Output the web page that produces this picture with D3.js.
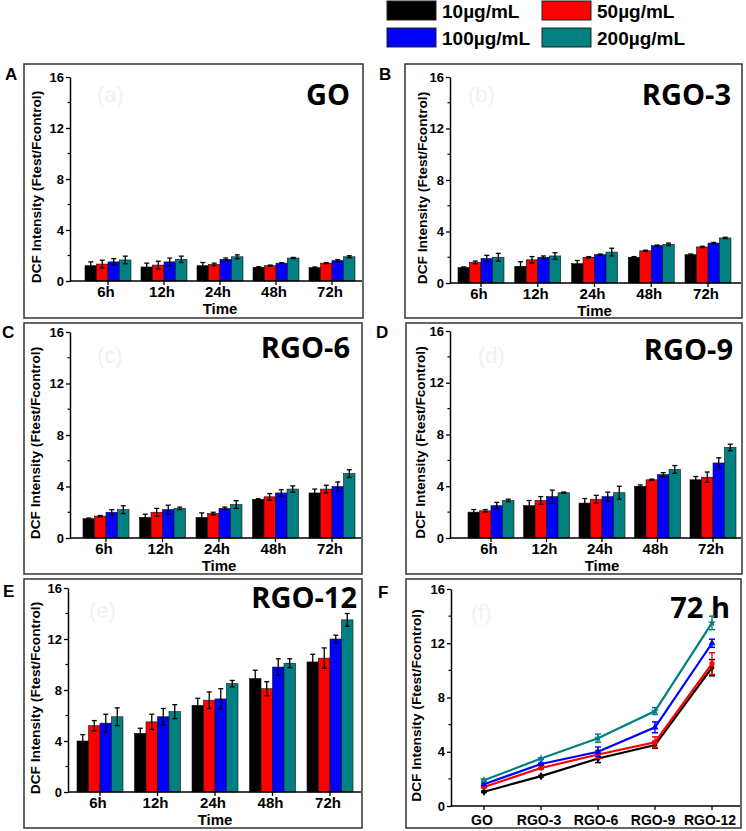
<!DOCTYPE html>
<html>
<head>
<meta charset="utf-8">
<script src="https://cdn.jsdelivr.net/npm/d3@7"></script>
<style>
  body { margin: 0; background: #fff; }
  text { font-family: "Liberation Sans", Arial, sans-serif; font-weight: bold; }
</style>
</head>
<body>
<div id="chart"></div>
<script>
// categories and series
var times = ["6h", "12h", "24h", "48h", "72h"];
var samples = ["GO", "RGO-3", "RGO-6", "RGO-9", "RGO-12"];
var concs = ["10\u00b5g/mL", "50\u00b5g/mL", "100\u00b5g/mL", "200\u00b5g/mL"];
var colors = ["#000000", "#ff0000", "#0000ff", "#008080"];
var yTicks = [0, 4, 8, 12, 16];
var yMinor = [2, 6, 10, 14];

// values per concentration (rows) and time (columns)
var goVals = [[1.2, 1.1, 1.2, 1.07, 1.05], [1.33, 1.25, 1.3, 1.2, 1.4], [1.5, 1.5, 1.7, 1.4, 1.6], [1.65, 1.7, 1.9, 1.8, 1.9]];
var goErr  = [[0.3, 0.3, 0.25, 0.05, 0.05], [0.3, 0.3, 0.1, 0.05, 0.05], [0.25, 0.3, 0.1, 0.03, 0.08], [0.3, 0.25, 0.15, 0.05, 0.08]];
var rgo3Vals = [[1.2, 1.3, 1.5, 2.0, 2.2], [1.6, 1.8, 2.0, 2.5, 2.8], [1.9, 2.0, 2.2, 2.9, 3.1], [2.0, 2.1, 2.4, 3.0, 3.5]];
var rgo3Err  = [[0.05, 0.35, 0.25, 0.05, 0.05], [0.1, 0.25, 0.05, 0.05, 0.05], [0.25, 0.1, 0.05, 0.05, 0.05], [0.3, 0.25, 0.3, 0.1, 0.05]];
var rgo6Vals = [[1.5, 1.6, 1.6, 3.0, 3.5], [1.7, 2.0, 1.9, 3.2, 3.8], [2.0, 2.2, 2.3, 3.5, 4.0], [2.2, 2.3, 2.6, 3.8, 5.0]];
var rgo6Err  = [[0.05, 0.25, 0.35, 0.05, 0.3], [0.05, 0.3, 0.1, 0.25, 0.3], [0.2, 0.35, 0.1, 0.25, 0.35], [0.3, 0.1, 0.3, 0.25, 0.3]];
var rgo9Vals = [[2.0, 2.5, 2.7, 4.0, 4.5], [2.1, 2.9, 3.0, 4.5, 4.7], [2.5, 3.2, 3.2, 4.9, 5.8], [2.9, 3.5, 3.5, 5.3, 7.0]];
var rgo9Err  = [[0.2, 0.4, 0.35, 0.1, 0.25], [0.1, 0.3, 0.3, 0.05, 0.4], [0.25, 0.5, 0.35, 0.15, 0.4], [0.1, 0.05, 0.5, 0.3, 0.25]];
var rgo12Vals = [[4.0, 4.6, 6.8, 8.9, 10.2], [5.2, 5.5, 7.2, 8.1, 10.5], [5.4, 5.9, 7.3, 9.8, 12.0], [5.9, 6.3, 8.5, 10.1, 13.5]];
var rgo12Err  = [[0.5, 0.4, 0.55, 0.65, 0.6], [0.4, 0.6, 0.65, 0.55, 0.8], [0.7, 0.65, 0.8, 0.65, 0.3], [0.7, 0.55, 0.25, 0.35, 0.5]];

var svg = d3.select("#chart").append("svg")
    .attr("width", 746)
    .attr("height", 831);

// legend
var legend = svg.append("g");
concs.forEach(function(c, i) {
    var lx = i % 2 === 0 ? 387 : 542;
    var ly = i < 2 ? 1 : 28;
    legend.append("rect")
        .attr("x", lx).attr("y", ly)
        .attr("width", 49).attr("height", 19)
        .attr("fill", colors[i])
        .attr("stroke", "#222").attr("stroke-width", 1);
    legend.append("text")
        .attr("x", lx + 55).attr("y", ly + 17)
        .style("font-size", "19px")
        .text(c);
});

// panel layout
var barPanels = [
    {key: "A", title: "GO", faint: "(a)", vals: goVals, errs: goErr,
     frame: [24, 64, 363, 318], plot: [70, 77, 362, 281], xr: [108, 332],
     keyPos: [5, 80], titlePos: [350, 105], faintPos: [97, 102], ylabX: 41},
    {key: "B", title: "RGO-3", faint: "(b)", vals: rgo3Vals, errs: rgo3Err,
     frame: [405, 64, 742, 318], plot: [450, 77, 741, 283], xr: [481, 708],
     keyPos: [379, 80], titlePos: [731, 105], faintPos: [468, 102], ylabX: 427},
    {key: "C", title: "RGO-6", faint: "(c)", vals: rgo6Vals, errs: rgo6Err,
     frame: [24, 323, 362, 574], plot: [70, 332, 361, 538], xr: [106, 332],
     keyPos: [2, 338], titlePos: [350, 358], faintPos: [97, 363], ylabX: 40},
    {key: "D", title: "RGO-9", faint: "(d)", vals: rgo9Vals, errs: rgo9Err,
     frame: [406, 323, 742, 574], plot: [450, 331, 741, 538], xr: [491, 713],
     keyPos: [376, 338], titlePos: [733, 360], faintPos: [478, 363], ylabX: 425},
    {key: "E", title: "RGO-12", faint: "(e)", vals: rgo12Vals, errs: rgo12Err,
     frame: [24, 579, 362, 828], plot: [68, 588, 361, 792], xr: [100, 330],
     keyPos: [3, 597], titlePos: [357, 608], faintPos: [89, 618], ylabX: 40}
];

function drawFrame(p) {
    svg.append("rect")
        .attr("x", p.frame[0]).attr("y", p.frame[1])
        .attr("width", p.frame[2] - p.frame[0])
        .attr("height", p.frame[3] - p.frame[1])
        .attr("fill", "none")
        .attr("stroke", "#333").attr("stroke-width", 1.5);

    svg.append("text")
        .attr("x", p.keyPos[0]).attr("y", p.keyPos[1])
        .style("font-size", "17px")
        .text(p.key);

    svg.append("text")
        .attr("x", p.faintPos[0]).attr("y", p.faintPos[1])
        .style("font-size", "22px").style("font-weight", "normal")
        .attr("fill", "#f1f1f1")
        .text(p.faint);

    svg.append("text")
        .attr("x", p.titlePos[0]).attr("y", p.titlePos[1])
        .attr("text-anchor", "end")
        .style("font-family", "'Open Sans', sans-serif")
        .style("font-size", "29px")
        .text(p.title);
}

function drawYAxis(p, y) {
    var g = svg.append("g").attr("transform", "translate(" + p.plot[0] + ",0)");
    g.call(d3.axisLeft(y).tickValues(yTicks).tickSize(4).tickSizeOuter(0));
    g.select(".domain").attr("stroke-width", 1.5);
    g.selectAll(".tick line").attr("stroke-width", 1.3);
    g.selectAll(".tick text")
        .attr("x", -6)
        .style("font-size", "13px")
        .style("font-family", "'Liberation Sans', Arial, sans-serif")
        .style("font-weight", "bold");
    g.selectAll(".minor").data(yMinor).enter().append("line")
        .attr("class", "minor")
        .attr("x1", -2.5).attr("x2", 0)
        .attr("y1", function(d) { return y(d); })
        .attr("y2", function(d) { return y(d); })
        .attr("stroke", "#000").attr("stroke-width", 1.2);

    svg.append("text")
        .attr("transform", "translate(" + p.ylabX + "," + ((p.plot[1] + p.plot[3]) / 2 + 8) + ") rotate(-90)")
        .attr("text-anchor", "middle")
        .style("font-size", "13.7px")
        .text("DCF Intensity (Ftest/Fcontrol)");
}

function drawXAxis(p, x, cats, withTitle) {
    svg.append("line")
        .attr("x1", p.plot[0]).attr("x2", p.plot[2])
        .attr("y1", p.plot[3]).attr("y2", p.plot[3])
        .attr("stroke", "#000").attr("stroke-width", 1.5);
    svg.selectAll(null).data(cats).enter().append("line")
        .attr("x1", function(d) { return x(d); })
        .attr("x2", function(d) { return x(d); })
        .attr("y1", p.plot[3]).attr("y2", p.plot[3] + 4)
        .attr("stroke", "#000").attr("stroke-width", 1.3);
    svg.selectAll(null).data(cats).enter().append("text")
        .attr("x", function(d) { return x(d) - 2; })
        .attr("y", p.plot[3] + (withTitle ? 16 : 19))
        .attr("text-anchor", "middle")
        .style("font-size", withTitle ? "15px" : "14px")
        .text(function(d) { return d; });
    if (withTitle) {
        svg.append("text")
            .attr("x", (p.xr[0] + p.xr[1]) / 2)
            .attr("y", p.plot[3] + 33)
            .attr("text-anchor", "middle")
            .style("font-size", "15px")
            .text("Time");
    }
}

barPanels.forEach(function(p) {
    drawFrame(p);

    var y = d3.scaleLinear().domain([0, 16]).range([p.plot[3], p.plot[1]]);
    var x = d3.scalePoint().domain(times).range(p.xr);
    var sub = d3.scaleBand().domain(d3.range(concs.length)).range([-23, 23]);

    concs.forEach(function(c, s) {
        var rows = times.map(function(t, i) {
            return {t: t, v: p.vals[s][i], e: p.errs[s][i]};
        });
        var g = svg.append("g");
        g.selectAll("rect").data(rows).enter().append("rect")
            .attr("x", function(d) { return x(d.t) + sub(s); })
            .attr("y", function(d) { return y(d.v); })
            .attr("width", sub.bandwidth())
            .attr("height", function(d) { return y(0) - y(d.v); })
            .attr("fill", colors[s])
            .attr("stroke", "#111").attr("stroke-width", 0.6);

        // error bars
        var eg = g.selectAll(".err").data(rows).enter().append("g")
            .attr("transform", function(d) {
                return "translate(" + (x(d.t) + sub(s) + sub.bandwidth() / 2) + ",0)";
            });
        eg.append("line")
            .attr("y1", function(d) { return y(d.v - d.e); })
            .attr("y2", function(d) { return y(d.v + d.e); })
            .attr("stroke", "#000").attr("stroke-width", 1.3);
        eg.append("line")
            .attr("x1", -2.5).attr("x2", 2.5)
            .attr("y1", function(d) { return y(d.v + d.e); })
            .attr("y2", function(d) { return y(d.v + d.e); })
            .attr("stroke", "#000").attr("stroke-width", 1.3);
        eg.append("line")
            .attr("x1", -2.5).attr("x2", 2.5)
            .attr("y1", function(d) { return y(d.v - d.e); })
            .attr("y2", function(d) { return y(d.v - d.e); })
            .attr("stroke", "#000").attr("stroke-width", 1.3);
    });

    drawYAxis(p, y);
    drawXAxis(p, x, times, true);
});

// panel F: 72 h values for every sample
var fp = {key: "F", title: "72 h", faint: "(f)",
    frame: [406, 579, 741, 828], plot: [451, 589, 740, 806], xr: [484, 712],
    keyPos: [378, 598], titlePos: [730, 618], faintPos: [471, 620], ylabX: 421};
drawFrame(fp);

var allVals = [goVals, rgo3Vals, rgo6Vals, rgo9Vals, rgo12Vals];
var allErrs = [goErr, rgo3Err, rgo6Err, rgo9Err, rgo12Err];
var fy = d3.scaleLinear().domain([0, 16]).range([fp.plot[3], fp.plot[1]]);
var fx = d3.scalePoint().domain(samples).range(fp.xr);
var symbols = [d3.symbolDiamond, d3.symbolCircle, d3.symbolTriangle, d3.symbolStar];

concs.forEach(function(c, s) {
    var pts = samples.map(function(name, k) {
        return {name: name, v: allVals[k][s][4], e: allErrs[k][s][4]};
    });
    var line = d3.line()
        .x(function(d) { return fx(d.name); })
        .y(function(d) { return fy(d.v); });
    var g = svg.append("g");
    g.append("path")
        .datum(pts)
        .attr("fill", "none")
        .attr("stroke", colors[s])
        .attr("stroke-width", 2.2)
        .attr("d", line);

    var eg = g.selectAll(".err").data(pts).enter().append("g")
        .attr("transform", function(d) { return "translate(" + fx(d.name) + ",0)"; });
    eg.append("line")
        .attr("y1", function(d) { return fy(d.v - d.e); })
        .attr("y2", function(d) { return fy(d.v + d.e); })
        .attr("stroke", colors[s]).attr("stroke-width", 1.3);
    [-1, 1].forEach(function(sign) {
        eg.append("line")
            .attr("x1", -3).attr("x2", 3)
            .attr("y1", function(d) { return fy(d.v + sign * d.e); })
            .attr("y2", function(d) { return fy(d.v + sign * d.e); })
            .attr("stroke", colors[s]).attr("stroke-width", 1.5);
    });
    g.selectAll(".pt").data(pts).enter().append("path")
        .attr("transform", function(d) { return "translate(" + fx(d.name) + "," + fy(d.v) + ")"; })
        .attr("d", d3.symbol().type(symbols[s]).size(22))
        .attr("fill", colors[s]);
});

drawYAxis(fp, fy);
drawXAxis(fp, fx, samples, false);
</script>
</body>
</html>
